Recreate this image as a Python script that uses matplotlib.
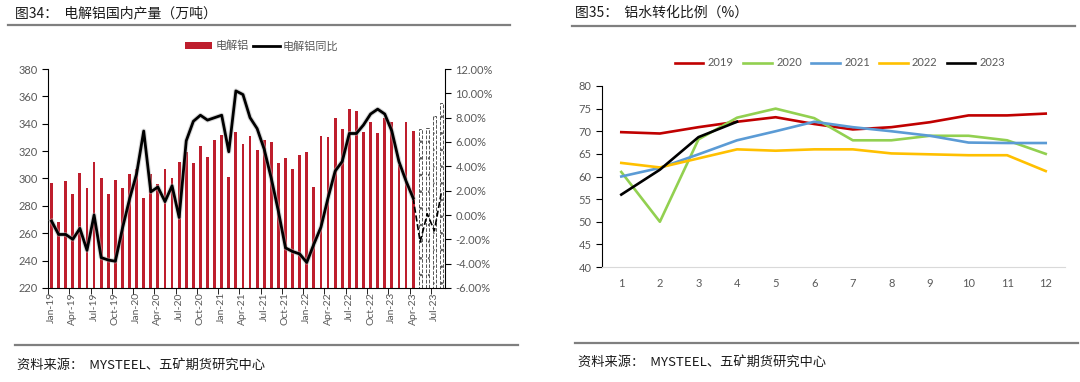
import matplotlib
matplotlib.use("Agg")
import matplotlib.pyplot as plt
import matplotlib.patheffects as pe
from matplotlib.lines import Line2D
from matplotlib.patches import Patch
import numpy as np

plt.rcParams['font.family'] = ['Lato', 'Noto Sans CJK SC', 'DejaVu Sans']
plt.rcParams['hatch.linewidth'] = 0.6

# ---- 图34 数据 ----
months = ['Jan-19', 'Feb-19', 'Mar-19', 'Apr-19', 'May-19', 'Jun-19', 'Jul-19', 'Aug-19', 'Sep-19', 'Oct-19', 'Nov-19', 'Dec-19',
          'Jan-20', 'Feb-20', 'Mar-20', 'Apr-20', 'May-20', 'Jun-20', 'Jul-20', 'Aug-20', 'Sep-20', 'Oct-20', 'Nov-20', 'Dec-20',
          'Jan-21', 'Feb-21', 'Mar-21', 'Apr-21', 'May-21', 'Jun-21', 'Jul-21', 'Aug-21', 'Sep-21', 'Oct-21', 'Nov-21', 'Dec-21',
          'Jan-22', 'Feb-22', 'Mar-22', 'Apr-22', 'May-22', 'Jun-22', 'Jul-22', 'Aug-22', 'Sep-22', 'Oct-22', 'Nov-22', 'Dec-22',
          'Jan-23', 'Feb-23', 'Mar-23', 'Apr-23', 'May-23', 'Jun-23', 'Jul-23', 'Aug-23']
output = [297, 268, 298, 289, 304, 293, 312, 300, 289, 299, 293, 303,
          307, 286, 303, 296, 307, 300, 312, 319, 311, 324, 316, 328,
          332, 301, 334, 325, 331, 321, 328, 327, 311, 315, 307, 317,
          319, 294, 331, 330, 344, 336, 351, 349, 334, 341, 333, 344,
          341, 310, 341, 335, 336, 337, 346, 355]
yoy = [-0.5, -1.6, -1.6, -2.0, -1.1, -2.9, 0.0, -3.5, -3.7, -3.8, -1.1, 1.3,
       3.4, 6.9, 1.9, 2.3, 1.1, 2.4, -0.2, 6.1, 7.7, 8.2, 7.8, 8.0,
       8.2, 5.2, 10.2, 9.9, 8.0, 7.1, 5.4, 3.0, 0.3, -2.7, -3.0, -3.2,
       -3.9, -2.4, -1.0, 1.4, 3.6, 4.4, 6.7, 6.7, 7.4, 8.3, 8.7, 8.3,
       6.9, 4.4, 2.8, 1.4, -2.2, 0.1, -1.3, 1.9]
n_actual = 52  # Jan-19 ~ Apr-23 为实际值, 之后为预估

# ---- 图35 数据 ----
month_no = [1, 2, 3, 4, 5, 6, 7, 8, 9, 10, 11, 12]
r2019 = [69.8, 69.5, 70.9, 72.1, 73.1, 71.6, 70.4, 70.9, 72.0, 73.5, 73.5, 73.9]
r2020 = [61.0, 50.0, 68.2, 73.0, 75.0, 72.9, 68.0, 68.0, 69.0, 69.0, 68.0, 65.0]
r2021 = [60.0, 61.9, 64.9, 68.0, 70.0, 72.1, 70.9, 70.0, 69.0, 67.5, 67.4, 67.4]
r2022 = [63.0, 62.0, 64.0, 66.0, 65.7, 66.0, 66.0, 65.1, 64.9, 64.7, 64.7, 61.2]
r2023 = [56.0, 61.5, 68.7, 72.1]

gray = '#595959'
fig = plt.figure(figsize=(10.8, 3.82), dpi=100)
W, H = 1080, 382

def fx(px):
    return px / W

def fy(py):
    return 1 - py / H

# 标题与分隔线
fig.text(fx(15), fy(13), '图34：  电解铝国内产量（万吨）', fontsize=10, weight='medium',
         family=['Noto Sans CJK SC'], va='center', ha='left', color='#1a1a1a')
fig.text(fx(575), fy(13), '图35：  铝水转化比例（%）', fontsize=10, weight='medium',
         family=['Noto Sans CJK SC'], va='center', ha='left', color='#1a1a1a')
for x0, x1, y in [(8, 510, 25), (572, 1075, 26), (15, 518, 345), (575, 1078, 343)]:
    fig.add_artist(Line2D([fx(x0), fx(x1)], [fy(y), fy(y)], color='#7f7f7f', lw=1.6))
fig.text(fx(17), fy(365), '资料来源：  MYSTEEL、五矿期货研究中心', fontsize=9.5,
         family=['Noto Sans CJK SC'], va='center', ha='left', color='#1a1a1a')
fig.text(fx(578), fy(362), '资料来源：  MYSTEEL、五矿期货研究中心', fontsize=9.5,
         family=['Noto Sans CJK SC'], va='center', ha='left', color='#1a1a1a')

# ---- 左图 ----
ax = fig.add_axes([fx(48), fy(288), fx(445 - 48), (288 - 69) / H])
x = np.arange(len(months))
ax.bar(x[:n_actual], output[:n_actual], width=0.4, color='#BE1E2D', zorder=2)
ax.bar(x[n_actual:], output[n_actual:], width=0.4, facecolor='white', edgecolor='#555555',
       linestyle='--', linewidth=0.7, hatch='..', zorder=2)
ax.set_ylim(220, 380)
ax.set_yticks(range(220, 381, 20))
ax.set_xlim(-0.5, len(months) - 0.5)
ax.set_xticks(x[::3])
ax.set_xticklabels(months[::3], rotation=90)
ax.set_xticks(np.arange(-0.5, len(months), 3), minor=True)
ax.tick_params(axis='x', which='major', length=0, labelsize=7.5, colors=gray, pad=3)
ax.tick_params(axis='x', which='minor', length=4, color='black', direction='out')
ax.tick_params(axis='y', length=4, labelsize=8, colors=gray, direction='out')
ax.tick_params(axis='y', color='black')
for s in ['top', 'right']:
    ax.spines[s].set_visible(False)
ax.spines['left'].set_color('black')
ax.spines['bottom'].set_color('black')

ax2 = ax.twinx()
ax2.plot(x[:n_actual], yoy[:n_actual], color='black', lw=2, zorder=3,
         path_effects=[pe.Stroke(linewidth=3.5, foreground='#b0b0b0', alpha=0.5), pe.Normal()])
ax2.plot(x[n_actual - 1:], yoy[n_actual - 1:], color='black', lw=1.2, ls='--', zorder=3)
ax2.set_ylim(-6, 12)
ax2.set_yticks(range(-6, 13, 2))
ax2.set_yticklabels([f'{v:.2f}%' for v in range(-6, 13, 2)])
ax2.tick_params(axis='y', length=4, labelsize=8, labelcolor=gray, color='black', direction='out')
for s in ['top', 'left', 'bottom']:
    ax2.spines[s].set_visible(False)
ax2.spines['right'].set_color('black')

handles = [Patch(facecolor='#BE1E2D', edgecolor='none'), Line2D([], [], color='black', lw=2)]
fig.legend(handles, ['电解铝', '电解铝同比'], loc='center', bbox_to_anchor=(fx(262), fy(46)),
           ncol=2, frameon=False, labelcolor=gray, handlelength=2.4, handleheight=0.5,
           handletextpad=0.3, columnspacing=0.4, prop={'family': ['Noto Sans CJK SC'], 'size': 8})

# ---- 右图 ----
bx = fig.add_axes([fx(602), fy(267), fx(1065 - 602), (267 - 86) / H])
series = [('2019', r2019, '#C00000'), ('2020', r2020, '#92D050'), ('2021', r2021, '#5B9BD5'),
          ('2022', r2022, '#FFC000'), ('2023', r2023, '#000000')]
for name, vals, c in series:
    bx.plot(month_no[:len(vals)], vals, color=c, lw=1.9, label=name)
bx.set_xlim(0.5, 12.5)
bx.set_ylim(40, 80)
bx.set_yticks(range(40, 81, 5))
bx.set_xticks(month_no)
bx.tick_params(axis='x', length=0, labelsize=8, colors=gray, pad=8)
bx.tick_params(axis='y', length=4, labelsize=8, labelcolor=gray, color='black', direction='out')
for s in ['top', 'right']:
    bx.spines[s].set_visible(False)
bx.spines['left'].set_color('black')
bx.spines['bottom'].set_color('#d9d9d9')
bx.legend(loc='center', bbox_to_anchor=(fx(840), fy(63)), bbox_transform=fig.transFigure,
          ncol=5, frameon=False, fontsize=8, labelcolor=gray, handlelength=2.6,
          handletextpad=0.4, columnspacing=0.8)

fig.savefig('out.png', dpi=100)
